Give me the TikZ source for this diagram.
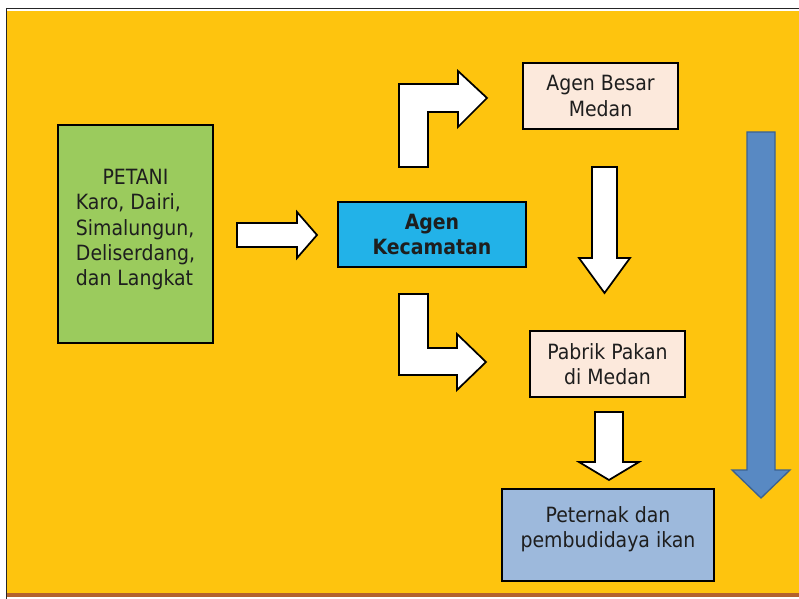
\documentclass[tikz,border=0pt]{standalone}
\usepackage{fontspec}
\setmainfont{DejaVu Sans Condensed}
\newdimen\px \px=0.75pt

\definecolor{bgyellow}{HTML}{FEC40E}
\definecolor{petanigreen}{HTML}{9BCB5D}
\definecolor{agenblue}{HTML}{22B2E8}
\definecolor{medanpeach}{HTML}{FCE9DC}
\definecolor{ikanblue}{HTML}{9DB9DC}
\definecolor{flowblue}{HTML}{5889C3}
\definecolor{flowedge}{HTML}{3C6291}
\definecolor{stripbrown}{HTML}{B3622D}
\definecolor{inktext}{HTML}{1E1E1E}

\begin{document}
\begin{tikzpicture}[
  x=\px, y=-\px,
  font=\fontsize{15.75}{19}\selectfont,
  tradebox/.style={rectangle, draw=black, line width=1.4pt, text=inktext, align=center, inner sep=2pt},
  blockarrow/.style={draw=black, fill=white, line width=1.3pt, line join=miter},
  flowarrow/.style={draw=flowedge, fill=flowblue, line width=1pt, line join=miter}
]
\useasboundingbox (0,0) rectangle (799,599);

% Background panel
\fill[bgyellow] (7,11) rectangle (799,593);
\fill[stripbrown] (7,593) rectangle (799,597);
\draw[black!85, line width=1.5\px] (6,8.5) -- (799,8.5);
\draw[black!85, line width=1.5\px] (6.5,8) -- (6.5,599);

% Boxes
\node[tradebox, fill=petanigreen, minimum width=155\px, minimum height=218\px] (Petani) at (135.5,234)
  {\begin{tabular}{@{}l@{}}\multicolumn{1}{@{}c@{}}{PETANI}\\Karo, Dairi,\\Simalungun,\\Deliserdang,\\dan Langkat\\[8\px]\end{tabular}};
\node[tradebox, fill=agenblue, minimum width=188\px, minimum height=65\px, font=\fontsize{15.75}{19}\selectfont\bfseries] (Kecamatan) at (432,234.5) {Agen\\Kecamatan};
\node[tradebox, fill=medanpeach, minimum width=155\px, minimum height=66\px] (Besar) at (600.5,96) {Agen Besar\\Medan};
\node[tradebox, fill=medanpeach, minimum width=155\px, minimum height=66\px] (Pabrik) at (607.5,364) {Pabrik Pakan\\di Medan};
\node[tradebox, fill=ikanblue, minimum width=212\px, minimum height=92\px] (Peternak) at (608,535) {Peternak dan\\pembudidaya ikan\\[-10\px]};

% Block arrows
\draw[blockarrow] (237,223) -- (297,223) -- (297,212) -- (317,235) -- (297,258) -- (297,247) -- (237,247) -- cycle;
\draw[blockarrow] (399,167) -- (399,84) -- (458,84) -- (458,71) -- (487,98) -- (458,127) -- (458,112) -- (428,112) -- (428,167) -- cycle;
\draw[blockarrow] (399,294) -- (399,375) -- (457,375) -- (457,390) -- (486,362) -- (457,334) -- (457,348) -- (428,348) -- (428,294) -- cycle;
\draw[blockarrow] (592,167) -- (617,167) -- (617,258) -- (630,258) -- (604.5,293) -- (579,258) -- (592,258) -- cycle;
\draw[blockarrow] (595,412) -- (623,412) -- (623,462) -- (639,462) -- (609,480) -- (579,462) -- (595,462) -- cycle;

% Long flow arrow
\draw[flowarrow] (747,132) -- (775,132) -- (775,470) -- (790,470) -- (761,498) -- (732,470) -- (747,470) -- cycle;

\end{tikzpicture}
\end{document}
